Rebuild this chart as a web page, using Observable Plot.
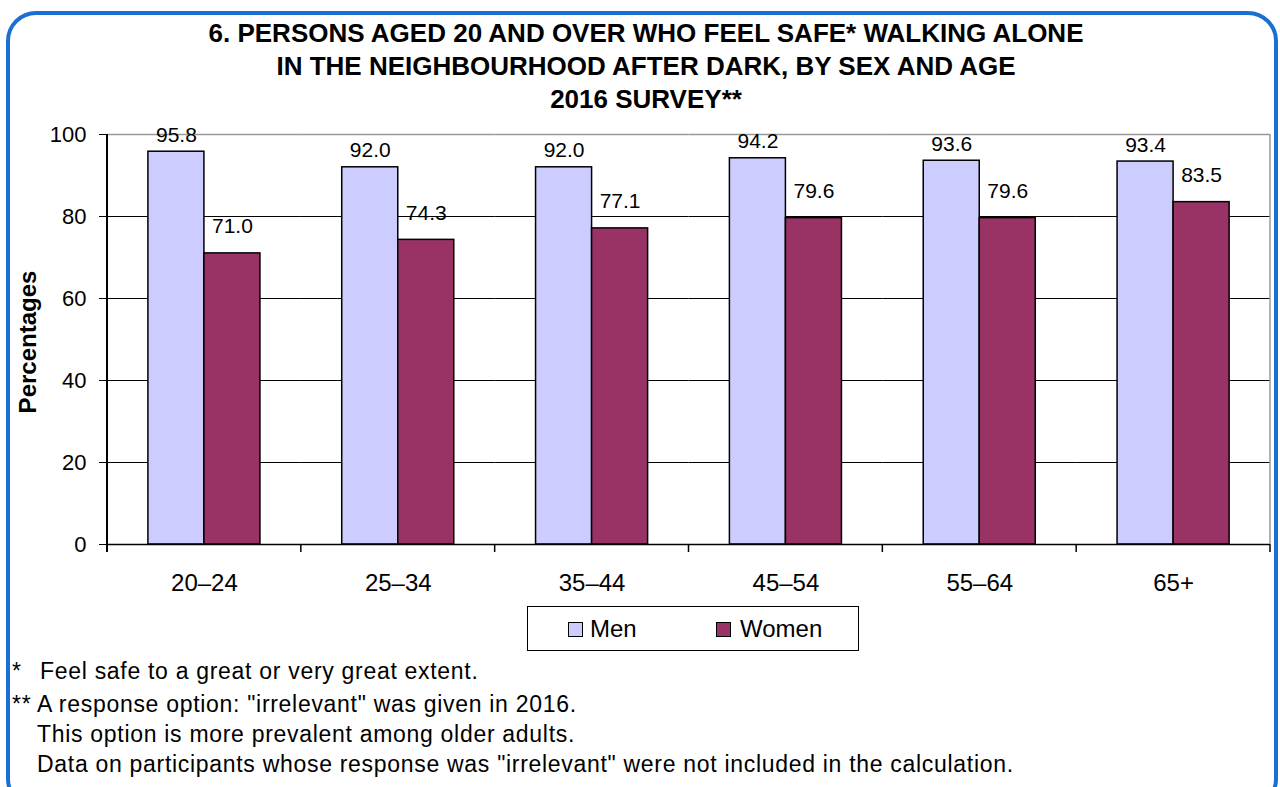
<!DOCTYPE html>
<html>
<head>
<meta charset="utf-8">
<script src="https://cdn.jsdelivr.net/npm/d3@7"></script>
<script src="https://cdn.jsdelivr.net/npm/@observablehq/plot@0.6"></script>
<style>
  html, body { margin: 0; padding: 0; background: #fff; overflow: hidden; }
  body { width: 1280px; height: 787px; position: relative; font-family: "Liberation Sans", Arial, sans-serif; color: #000; }
  #frame { position: absolute; left: 6px; top: 11px; width: 1264px; height: 790px; border: 4px solid #1a6fd3; border-radius: 30px; }
  #title { position: absolute; left: 146px; top: 17px; width: 1000px; text-align: center; font-weight: bold; font-size: 26px; line-height: 33px; }
  #ytitle { position: absolute; left: 28px; top: 342px; transform: translate(-50%, -50%) rotate(-90deg); font-weight: bold; font-size: 24px; white-space: nowrap; }
  #chart { position: absolute; left: 0; top: 110px; }
  #legend { position: absolute; left: 527px; top: 606px; width: 330px; height: 43px; border: 1.5px solid #000; background: #fff; }
  .lg { position: absolute; top: 0; font-size: 24px; line-height: 43px; white-space: nowrap; }
  .sw { position: absolute; top: 15px; width: 13px; height: 13px; border: 1px solid #000; }
  .fn { position: absolute; font-size: 23px; line-height: 23px; letter-spacing: 0.7px; white-space: nowrap; }
</style>
</head>
<body>
<div id="frame"></div>
<div id="title"></div>
<div id="ytitle"></div>
<div id="chart"></div>
<div id="legend"></div>
<div id="notes"></div>
<script>
// ---- data ----
const titleLines = [
  "6. PERSONS AGED 20 AND OVER WHO FEEL SAFE* WALKING ALONE",
  "IN THE NEIGHBOURHOOD AFTER DARK, BY SEX AND AGE",
  "2016 SURVEY**"
];
const yTitle = "Percentages";
const ages = ["20–24", "25–34", "35–44", "45–54", "55–64", "65+"];
const sexes = ["Men", "Women"];
const menValues = [95.8, 92.0, 92.0, 94.2, 93.6, 93.4];
const womenValues = [71.0, 74.3, 77.1, 79.6, 79.6, 83.5];
const yTicks = [0, 20, 40, 60, 80, 100];
const colors = ["#CCCCFF", "#993366"];
const footMarks = ["*", "**", "", ""];
const footTexts = [
  "Feel safe to a great or very great extent.",
  "A response option: \"irrelevant\" was given in 2016.",
  "This option is more prevalent among older adults.",
  "Data on participants whose response was \"irrelevant\" were not included in the calculation."
];

const data = [];
ages.forEach((a, i) => {
  data.push({age: a, sex: "Men", value: menValues[i]});
  data.push({age: a, sex: "Women", value: womenValues[i]});
});

// ---- texts ----
document.getElementById("title").innerHTML = titleLines.join("<br>");
document.getElementById("ytitle").textContent = yTitle;

const FONT = "Liberation Sans, Arial, sans-serif";
const chart = Plot.plot({
  width: 1280,
  height: 490,
  marginLeft: 107,
  marginRight: 10,
  marginTop: 24,
  marginBottom: 56,
  style: {fontFamily: FONT, fontSize: "22px", color: "#000", background: "transparent", overflow: "visible"},
  fx: {domain: ages, padding: 0, round: false, label: null},
  x: {domain: sexes, paddingInner: 0, paddingOuter: 0.73, round: false, axis: null},
  y: {domain: [0, 100], label: null},
  color: {domain: sexes, range: colors},
  marks: [
    Plot.gridY({ticks: [20, 40, 60, 80], stroke: "#000", strokeOpacity: 1, strokeWidth: 1}),
    Plot.ruleY([100], {stroke: "#999", strokeWidth: 1.5}),
    Plot.barY(data, {fx: "age", x: "sex", y: "value", fill: "sex", stroke: "#000", strokeWidth: 1.5, inset: 0}),
    Plot.ruleY([0], {stroke: "#000", strokeWidth: 1.5}),
    Plot.text(data.filter(d => d.sex === "Men"), {fx: "age", x: "sex", y: "value", text: d => d.value.toFixed(1), lineAnchor: "bottom", dy: -10, fontSize: 21, fill: "#000"}),
    Plot.text(data.filter(d => d.sex === "Women"), {fx: "age", x: "sex", y: "value", text: d => d.value.toFixed(1), lineAnchor: "bottom", dy: -20, fontSize: 21, fill: "#000"}),
    Plot.axisY({ticks: yTicks, tickSize: 8, tickPadding: 13, label: null, fontSize: 22, tickFormat: d => d}),
    Plot.axisFx({anchor: "bottom", tickSize: 0, tickPadding: 29, label: null, fontSize: 24})
  ]
});
document.getElementById("chart").appendChild(chart);

// axis frame lines and category boundary ticks, from the plot's own scales
const fx = chart.scale("fx");
const ys = chart.scale("y");
const svg = d3.select(chart);
const y0 = ys.apply(0), y100 = ys.apply(100);
const edges = ages.map(a => fx.apply(a));
const right = fx.apply(ages[ages.length - 1]) + fx.bandwidth;
edges.push(right);
const g = svg.append("g");
g.append("line").attr("x1", right).attr("x2", right).attr("y1", y100).attr("y2", y0).attr("stroke", "#999").attr("stroke-width", 1.5);
g.append("line").attr("x1", edges[0]).attr("x2", edges[0]).attr("y1", y100).attr("y2", y0 + 8).attr("stroke", "#000").attr("stroke-width", 2);
edges.slice(1).forEach(e => {
  g.append("line").attr("x1", e).attr("x2", e).attr("y1", y0).attr("y2", y0 + 8).attr("stroke", "#000").attr("stroke-width", 1.5);
});

// ---- legend ----
const legend = document.getElementById("legend");
const legendPos = [{sw: 40, tx: 62}, {sw: 188, tx: 212}];
sexes.forEach((s, i) => {
  const sw = document.createElement("div");
  sw.className = "sw";
  sw.style.left = legendPos[i].sw + "px";
  sw.style.background = colors[i];
  legend.appendChild(sw);
  const t = document.createElement("div");
  t.className = "lg";
  t.style.left = legendPos[i].tx + "px";
  t.textContent = s;
  legend.appendChild(t);
});

// ---- footnotes ----
const notes = document.getElementById("notes");
const baselines = [680, 713, 743, 773];
const textX = [40, 37, 37, 37];
footTexts.forEach((txt, i) => {
  if (footMarks[i]) {
    const m = document.createElement("div");
    m.className = "fn";
    m.style.left = "12px";
    m.style.top = (baselines[i] - 20) + "px";
    m.textContent = footMarks[i];
    notes.appendChild(m);
  }
  const d = document.createElement("div");
  d.className = "fn";
  d.style.left = textX[i] + "px";
  d.style.top = (baselines[i] - 20) + "px";
  d.textContent = txt;
  notes.appendChild(d);
});
</script>
</body>
</html>
